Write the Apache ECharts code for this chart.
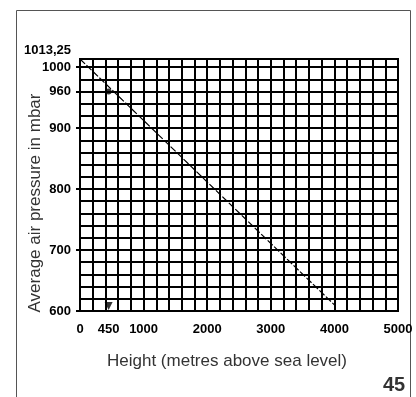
<!DOCTYPE html>
<html>
<head>
<meta charset="utf-8">
<script src="https://cdn.jsdelivr.net/npm/echarts@6/dist/echarts.min.js"></script>
<style>
  html, body { margin: 0; padding: 0; background: #fff; }
  #chart { width: 416px; height: 397px; }
</style>
</head>
<body>
<div id="chart"></div>
<script>
// values
const heightTicks = [0, 450, 1000, 2000, 3000, 4000, 5000];
const pressureTicks = [600, 700, 800, 900, 960, 1000, 1013.25];
const trendLine = [[0, 1013.25], [4000, 610]];
const examplePoint = [[450, 960]];
const exampleMarker = [[450, 600]];

const chart = echarts.init(document.getElementById('chart'));

const tickFont = {
  color: '#000',
  fontFamily: 'Liberation Sans Narrow, Liberation Sans, Arial, sans-serif',
  fontWeight: 'bold',
  fontSize: 13
};
const gridLine = { show: true, lineStyle: { color: '#000', width: 2 } };

chart.setOption({
  animation: false,
  grid: {
    left: 80,
    right: 18,
    top: 59,
    bottom: 86,
    outerBoundsMode: 'none',
    show: true,
    borderColor: '#000',
    borderWidth: 2
  },
  graphic: [{
    type: 'rect',
    shape: { x: 16.5, y: 10.5, width: 394, height: 400 },
    style: { fill: 'none', stroke: '#555', lineWidth: 1 },
    silent: true
  }, {
    // y axis title, placed by hand like in the scan
    type: 'text',
    x: 35,
    y: 203,
    rotation: Math.PI / 2,
    style: {
      text: 'Average air pressure in mbar',
      fill: '#333',
      font: '17px Liberation Sans, Arial, sans-serif',
      align: 'center',
      verticalAlign: 'middle'
    }
  }, {
    type: 'text',
    left: 383,
    top: 375,
    style: {
      text: '45',
      fill: '#333',
      font: 'bold 20px Liberation Sans, Arial, sans-serif'
    }
  }],
  xAxis: [{
    // grid of 200 m columns
    type: 'value',
    min: 0,
    max: 5000,
    interval: 200,
    axisLine: { show: false },
    axisTick: { show: false },
    axisLabel: { show: false },
    splitLine: gridLine
  }, {
    type: 'value',
    min: 0,
    max: 5000,
    position: 'bottom',
    name: 'Height (metres above sea level)',
    nameLocation: 'middle',
    nameGap: 42,
    nameTextStyle: {
      color: '#333',
      fontFamily: 'Liberation Sans, Arial, sans-serif',
      fontSize: 17,
      padding: [0, 24, 0, 0]
    },
    axisLine: { show: true, lineStyle: { color: '#000', width: 2 } },
    axisTick: { show: false },
    axisLabel: {
      ...tickFont,
      margin: 12,
      customValues: heightTicks,
      formatter: function (v) { return String(v); }
    },
    splitLine: { show: false }
  }],
  yAxis: [{
    // grid of 20 mbar rows
    type: 'value',
    min: 600,
    max: 1013.25,
    interval: 20,
    axisLine: { show: false },
    axisTick: { show: false },
    axisLabel: { show: false },
    splitLine: gridLine
  }, {
    type: 'value',
    min: 600,
    max: 1013.25,
    position: 'left',
    axisLine: { show: true, lineStyle: { color: '#000', width: 2 } },
    axisTick: {
      show: true,
      length: 4,
      customValues: pressureTicks.slice(0, -1),
      lineStyle: { color: '#000', width: 2 }
    },
    axisLabel: {
      ...tickFont,
      margin: 9,
      customValues: pressureTicks,
      formatter: function (v) {
        if (v > 1010) {
          return '{top|' + String(v).replace('.', ',') + '}';
        }
        return String(v);
      },
      rich: {
        top: {
          ...tickFont,
          padding: [0, 0, 18, 0]
        }
      }
    },
    splitLine: { show: false }
  }],
  series: [{
    type: 'line',
    xAxisIndex: 1,
    yAxisIndex: 1,
    data: trendLine,
    symbol: 'none',
    lineStyle: { color: '#000', width: 1.2, type: [7, 2] },
    z: 5
  }, {
    type: 'scatter',
    xAxisIndex: 1,
    yAxisIndex: 1,
    data: examplePoint,
    symbol: 'circle',
    symbolSize: 6,
    itemStyle: { color: '#000' },
    z: 6
  }, {
    type: 'scatter',
    xAxisIndex: 1,
    yAxisIndex: 1,
    data: exampleMarker,
    symbol: 'triangle',
    symbolRotate: 180,
    symbolSize: 8,
    symbolOffset: [0, -5],
    itemStyle: { color: '#000' },
    z: 6
  }]
});
</script>
</body>
</html>
